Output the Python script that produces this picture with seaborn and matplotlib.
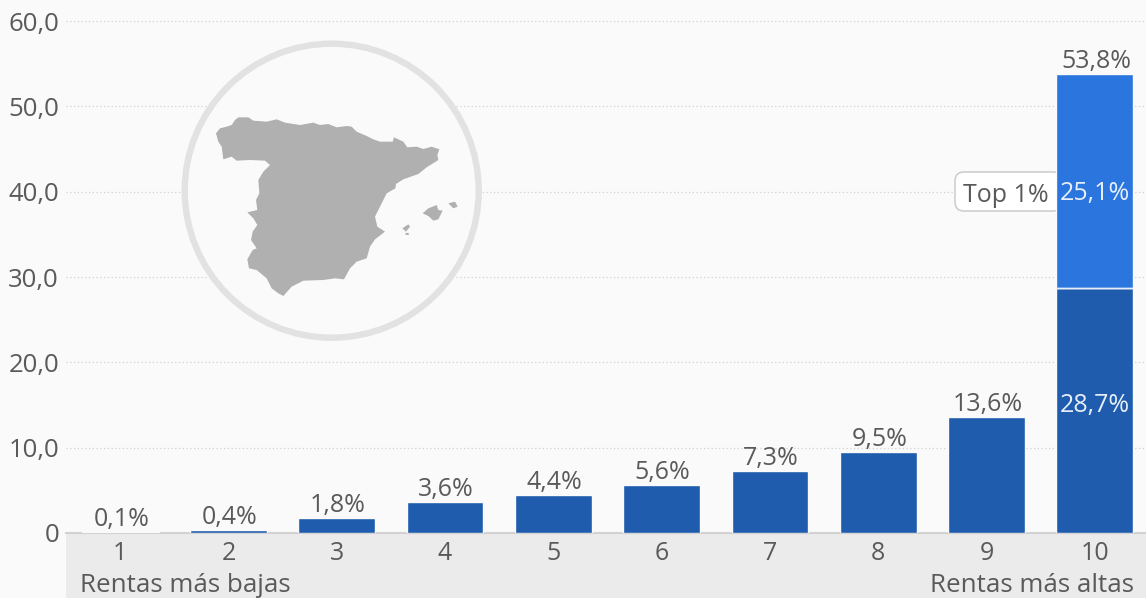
import pandas as pd
import numpy as np
import seaborn as sns
import matplotlib.pyplot as plt
from matplotlib.patches import Circle, Polygon, Rectangle, FancyBboxPatch

deciles = ["1", "2", "3", "4", "5", "6", "7", "8", "9", "10"]
base_values = [0.1, 0.4, 1.8, 3.6, 4.4, 5.6, 7.3, 9.5, 13.6, 28.7]
top_values = [25.1]
total_labels = ["0,1%", "0,4%", "1,8%", "3,6%", "4,4%", "5,6%", "7,3%", "9,5%", "13,6%", "53,8%"]
base_inner_label = "28,7%"
top_inner_label = "25,1%"
y_ticks = [0, 10, 20, 30, 40, 50, 60]
y_labels = ["0", "10,0", "20,0", "30,0", "40,0", "50,0", "60,0"]

BG = "#fafafa"
DARK_BLUE = "#1f5cae"
LIGHT_BLUE = "#2a76de"
TEXT = "#5a5a5a"
FS = 18
W, H = 1146, 598

# outline of Spain, in zoom crop pixels (3x, offset 170,30)
mainland = [(138,310),(150,295),(170,290),(185,285),(195,270),(205,262),(235,262),(250,272),(290,275),(320,268),(345,278),
            (390,285),(430,278),(450,285),(475,282),(500,292),(530,288),(545,290),(560,305),(590,318),(610,328),(630,335),
            (668,335),(672,322),(700,335),(712,352),(740,350),(760,357),(785,350),(808,358),(802,375),
            (805,390),(770,412),(745,432),(700,448),(678,462),(676,475),(650,490),(630,530),(615,560),
            (622,590),(645,605),(615,628),(600,650),(590,685),(560,695),(540,715),(522,748),(495,745),
            (460,750),(400,752),(365,770),(340,798),(325,790),(305,775),(290,745),(260,720),(237,715),
            (232,688),(248,660),(260,655),(243,630),(248,605),(262,585),(250,565),(232,547),(262,540),
            (258,510),(268,490),(265,450),(280,425),(300,405),(285,392),(240,390),(200,392),(185,380),
            (160,388),(155,350),(145,335)]
mallorca = [(758,550),(775,535),(800,525),(805,540),(818,542),(805,568),(790,572),(775,558)]
menorca = [(835,520),(855,515),(863,530),(850,535)]
ibiza = [(697,595),(715,583),(720,590),(708,605)]
formentera = [(705,610),(715,608),(717,615),(708,615)]

sns.set_theme(style="white")
plt.rcParams["font.family"] = ["Open Sans", "DejaVu Sans"]

fig = plt.figure(figsize=(W / 100, H / 100), dpi=100, facecolor=BG)
# axes run slightly past the right edge, as the last bar sits at x=1095
ax = fig.add_axes([66 / W, (H - 533) / H, 1083 / W, 533 / H])
ax.set_facecolor("none")


def px(x, y):
    # picture pixels (top left origin) to figure fraction
    return x / W, 1 - y / H


# grey band under the axis
fig.add_artist(Rectangle((66 / W, 0), (W - 66) / W, (H - 533) / H, transform=fig.transFigure,
                         facecolor="#ebebeb", edgecolor="none", zorder=-1))

df_base = pd.DataFrame({"decile": deciles, "share": base_values})
df_top = pd.DataFrame({"decile": deciles[-1:], "share": top_values})

sns.barplot(data=df_base, x="decile", y="share", order=deciles, color=DARK_BLUE, saturation=1,
            width=0.71, edgecolor=BG, ax=ax, zorder=3)
sns.barplot(data=df_top, x="decile", y="share", order=deciles, color=LIGHT_BLUE, saturation=1,
            width=0.71, edgecolor=BG, bottom=base_values[-1], ax=ax, zorder=3)
ax.plot([8.645, 9.355], [base_values[-1]] * 2, color="#e8eef8", lw=1.0, zorder=4, solid_capstyle="butt")

ax.set_xlim(-0.5, 9.5)
ax.set_ylim(0, 533 / 85.33 * 10)
ax.set_xlabel("")
ax.set_ylabel("")
ax.set_yticks(y_ticks)
ax.set_yticklabels(y_labels, fontsize=18.5, color=TEXT)
ax.tick_params(axis="y", length=0, pad=5)
ax.tick_params(axis="x", length=0, pad=6, labelsize=FS, labelcolor=TEXT)
ax.grid(axis="y", color="#d2d2d2", linestyle=(0, (1, 2)), linewidth=0.9, zorder=0)
ax.set_axisbelow(True)
for side in ["top", "right", "left"]:
    ax.spines[side].set_visible(False)
ax.spines["bottom"].set_color("#d2d2d2")
ax.spines["bottom"].set_linewidth(1.5)

# value labels
totals = base_values[:-1] + [base_values[-1] + top_values[0]]
for i, (v, lab) in enumerate(zip(totals, total_labels)):
    ax.text(i + 0.01, v + 0.0, lab, ha="center", va="bottom", fontsize=FS, color=TEXT, zorder=5)
ax.text(9, base_values[-1] / 2 + 0.55, base_inner_label, ha="center", va="center", fontsize=FS,
        color="#e6eefa", zorder=5)
ax.text(9, base_values[-1] + top_values[0] / 2 - 1.5, top_inner_label, ha="center", va="center",
        fontsize=FS, color="#e6eefa", zorder=5)

# Top 1% tag, runs behind the bar
tag = FancyBboxPatch((955, H - 211), 107, 39, boxstyle="round,pad=0,rounding_size=9",
                     transform=None, facecolor="white", edgecolor="#cfcfcf", linewidth=1.2, zorder=2.5)
ax.add_artist(tag)
fig.text(*px(1006, 195), "Top 1%", ha="center", va="center", fontsize=FS, color=TEXT, zorder=5)

# circle and map
ring = Circle((331.7, H - 190.7), 147, transform=None, facecolor=BG, edgecolor="#e2e2e2", linewidth=4.6, zorder=2)
ax.add_artist(ring)
for shape in [mainland, mallorca, menorca, ibiza, formentera]:
    pts = np.array(shape, dtype=float) / 3 + [170, 30]
    pts[:, 1] = H - pts[:, 1]
    ax.add_artist(Polygon(pts, closed=True, transform=None, facecolor="#b0b0b0", edgecolor="none", zorder=2.2))

fig.text(*px(80, 585), "Rentas más bajas", ha="left", va="center", fontsize=18.7, color=TEXT)
fig.text(*px(1134, 585), "Rentas más altas", ha="right", va="center", fontsize=18.7, color=TEXT)

fig.savefig("out.png", dpi=100, facecolor=BG)
